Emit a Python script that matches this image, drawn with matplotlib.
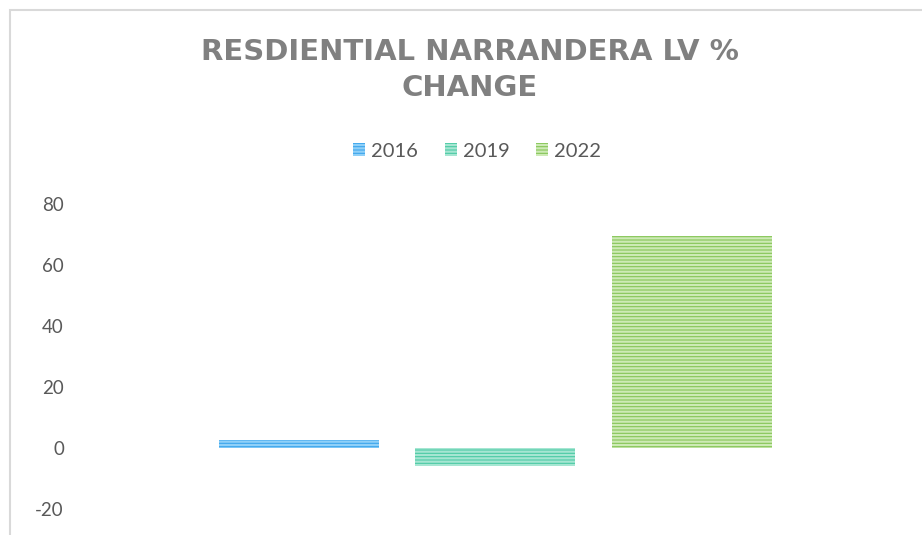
import matplotlib.pyplot as plt
from matplotlib.patches import Rectangle

plt.rcParams['font.family'] = ['Lato', 'DejaVu Sans']
plt.rcParams['axes.unicode_minus'] = False
plt.rcParams['hatch.linewidth'] = 1.6

years = ["2016", "2019", "2022"]
changes = [2.6, -5.8, 69.5]
colors = ["#3ea6ec", "#4ccaa5", "#86c557"]
stripes = ["#8fd0f8", "#a6e6d2", "#cdeab5"]

fig = plt.figure(figsize=(9.22, 5.35), dpi=100)
ax = fig.add_axes([75 / 922, 26 / 535, 825 / 922, 305 / 535])

for i in range(len(years)):
    ax.bar(i, changes[i], width=0.815, color=colors[i], edgecolor=stripes[i],
           linewidth=0, hatch="-----", label=years[i])

ax.set_ylim(-20, 80)
ax.set_xlim(-1.14, 3.06)
ax.set_yticks([-20, 0, 20, 40, 60, 80])
ax.set_xticks([])
for s in ax.spines.values():
    s.set_visible(False)
ax.tick_params(axis='y', length=0, pad=8, labelsize=13.5, labelcolor="#595959")

fig.text(470 / 922, 1 - 70 / 535, "RESDIENTIAL NARRANDERA LV %\nCHANGE", ha='center', va='center',
         fontsize=21, fontweight='bold', color="#808080", linespacing=1.4,
         family=['DejaVu Sans'])

fig.legend(loc='center', bbox_to_anchor=(477 / 922, 1 - 151 / 535), ncol=3, frameon=False,
           fontsize=14.5, handlelength=0.6, handleheight=0.6, handletextpad=0.3,
           columnspacing=1.3, labelcolor="#595959")

# chart frame (cropped on right and bottom)
fig.patches.append(Rectangle((10 / 922, -0.1), 1.2, 1 - 10 / 535 + 0.1, transform=fig.transFigure,
                             fill=False, edgecolor="#d9d9d9", linewidth=1.5))

fig.savefig("out.png", dpi=100)
